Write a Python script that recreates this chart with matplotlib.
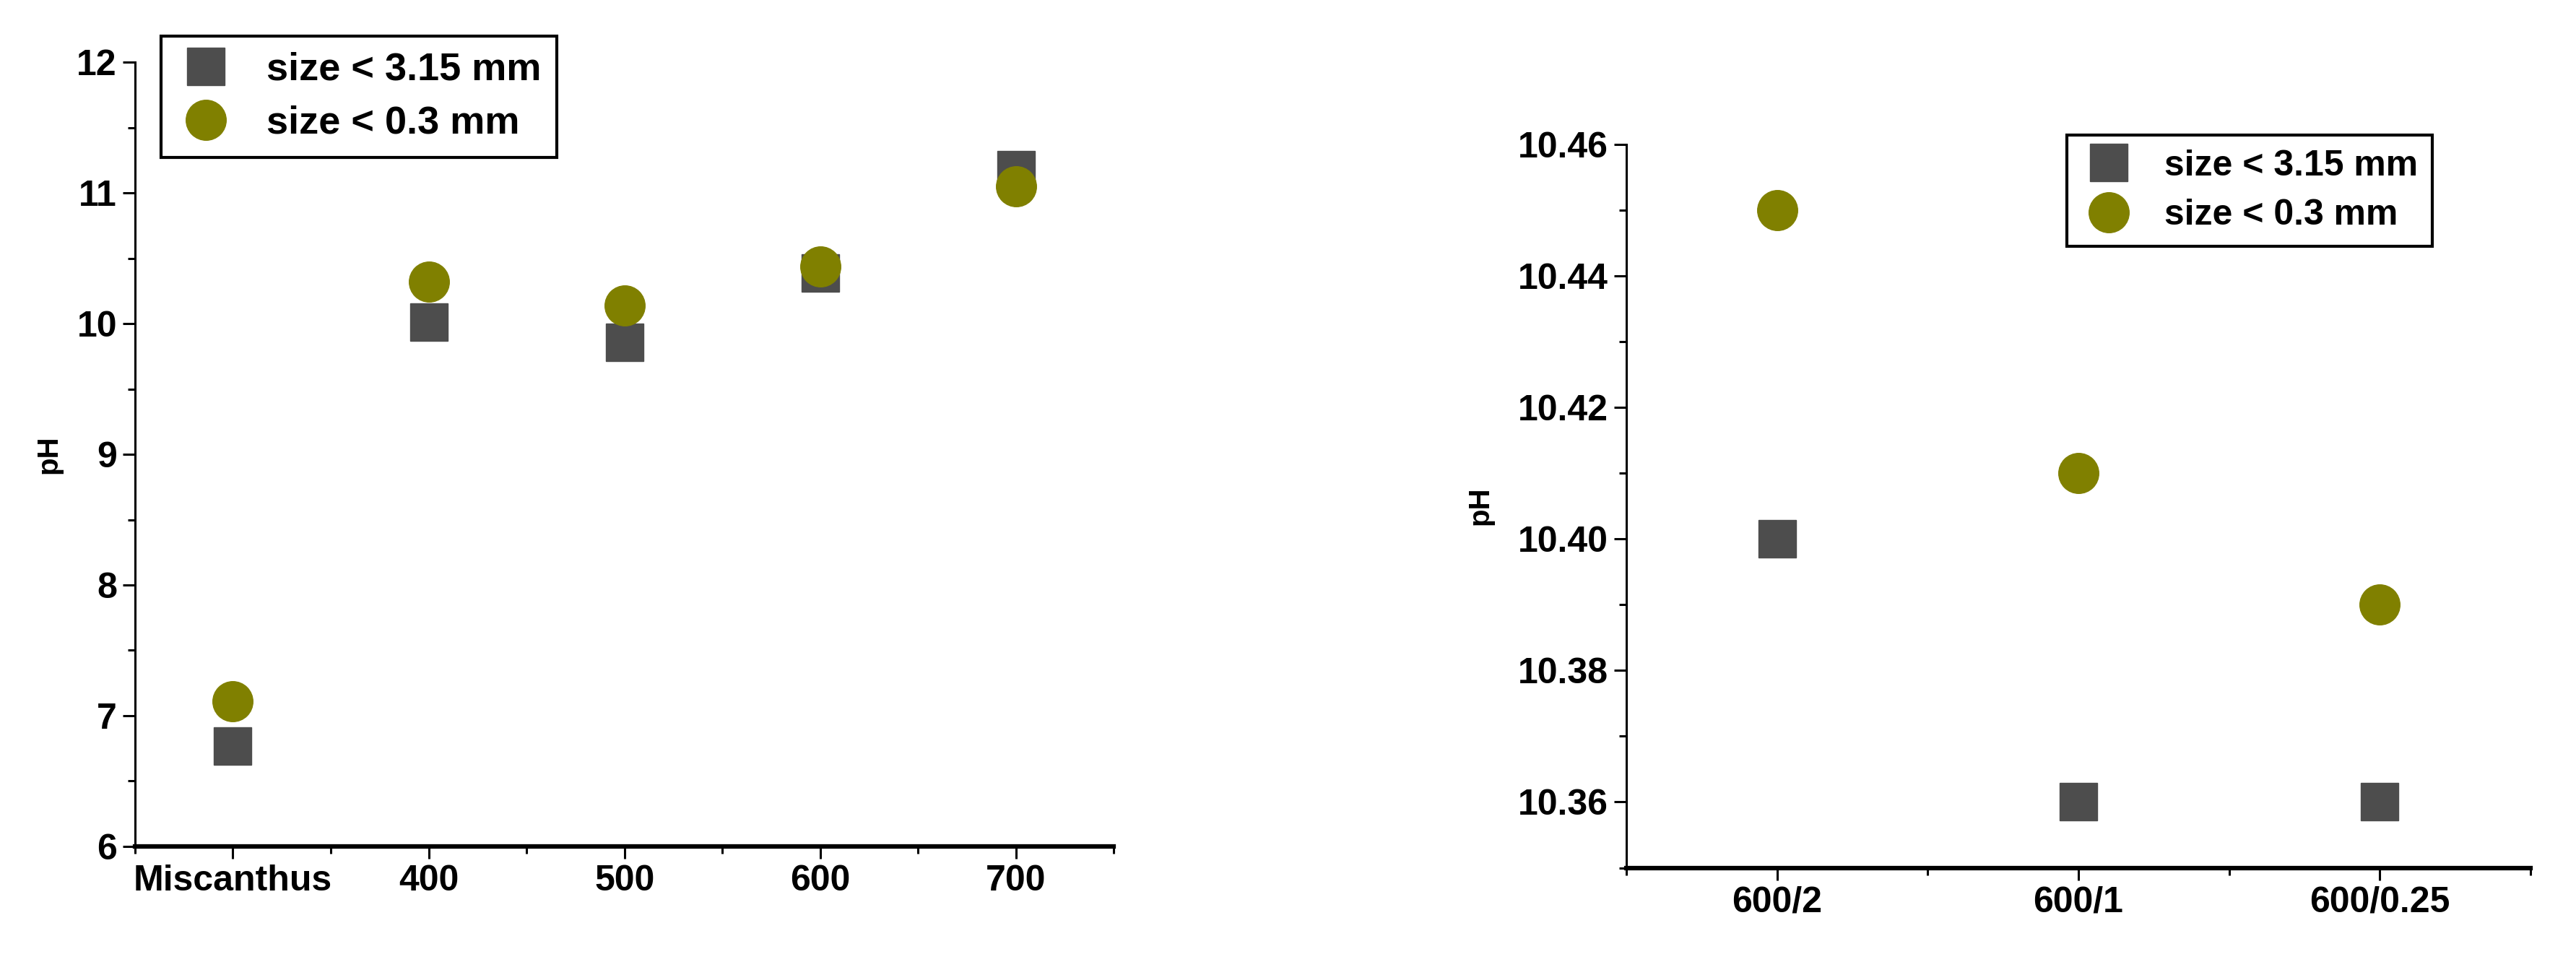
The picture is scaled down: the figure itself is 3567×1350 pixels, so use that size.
import matplotlib
matplotlib.use("Agg")
import matplotlib.pyplot as plt
from matplotlib.ticker import AutoMinorLocator, MultipleLocator

# left panel: pyrolysis temperature
temps = ["Miscanthus", "400", "500", "600", "700"]
ph_big_temp = [6.77, 10.01, 9.86, 10.39, 11.18]
ph_small_temp = [7.11, 10.32, 10.14, 10.44, 11.05]

# right panel: 600 C with different residence times
runs = ["600/2", "600/1", "600/0.25"]
ph_big_run = [10.40, 10.36, 10.36]
ph_small_run = [10.45, 10.41, 10.39]

labels = ["size < 3.15 mm", "size < 0.3 mm"]
sq_color = "#4d4d4d"
ci_color = "#808000"

plt.rcParams["font.family"] = ["Liberation Sans", "DejaVu Sans"]
plt.rcParams["font.weight"] = "bold"

fig = plt.figure(figsize=(35.67, 13.5), dpi=100)
ax1 = fig.add_axes([0.0524, 0.132, 0.380, 0.804])
ax2 = fig.add_axes([0.6313, 0.110, 0.351, 0.742])


def style(ax):
    ax.spines["top"].set_visible(False)
    ax.spines["right"].set_visible(False)
    ax.spines["left"].set_linewidth(2.2)
    ax.spines["bottom"].set_linewidth(4.5)
    ax.tick_params(axis="both", which="major", direction="out", length=12,
                   width=2.2, labelsize=36, pad=6)
    ax.tick_params(axis="both", which="minor", direction="out", length=7, width=2.2)
    ax.xaxis.set_minor_locator(AutoMinorLocator(2))
    ax.yaxis.set_minor_locator(AutoMinorLocator(2))
    for lab in ax.get_xticklabels() + ax.get_yticklabels():
        lab.set_fontweight("bold")
    ax.set_ylabel("pH", fontsize=29, fontweight="bold")


x1 = range(1, len(temps) + 1)
ax1.plot(x1, ph_big_temp, ls="none", marker="s", ms=38, color=sq_color, label=labels[0])
ax1.plot(x1, ph_small_temp, ls="none", marker="o", ms=40, color=ci_color, label=labels[1])
ax1.set_xlim(0.5, 5.5)
ax1.set_ylim(6, 12)
ax1.set_xticks(list(x1))
ax1.set_xticklabels(temps)
ax1.yaxis.set_major_locator(MultipleLocator(1))
style(ax1)
ax1.yaxis.labelpad = 14

x2 = range(1, len(runs) + 1)
ax2.plot(x2, ph_big_run, ls="none", marker="s", ms=38, color=sq_color, label=labels[0])
ax2.plot(x2, ph_small_run, ls="none", marker="o", ms=40, color=ci_color, label=labels[1])
ax2.set_xlim(0.5, 3.5)
ax2.set_ylim(10.35, 10.46)
ax2.set_xticks(list(x2))
ax2.set_xticklabels(runs)
ax2.yaxis.set_major_formatter(plt.FormatStrFormatter("%.2f"))
ax2.set_yticks([10.36, 10.38, 10.40, 10.42, 10.44, 10.46])
style(ax2)
ax2.yaxis.labelpad = 24

for ax, anchor, fs in [(ax1, (0.0625, 0.963), 39), (ax2, (0.8024, 0.8615), 36)]:
    leg = ax.legend(loc="upper left", bbox_to_anchor=anchor, bbox_transform=fig.transFigure,
                    borderaxespad=0, fancybox=False, framealpha=1, edgecolor="black",
                    prop={"size": fs, "weight": "bold"}, markerscale=1.0,
                    handletextpad=0.8, labelspacing=0.45, borderpad=0.4, handlelength=1.5)
    leg.get_frame().set_linewidth(3)

fig.savefig("out.png", dpi=100)
